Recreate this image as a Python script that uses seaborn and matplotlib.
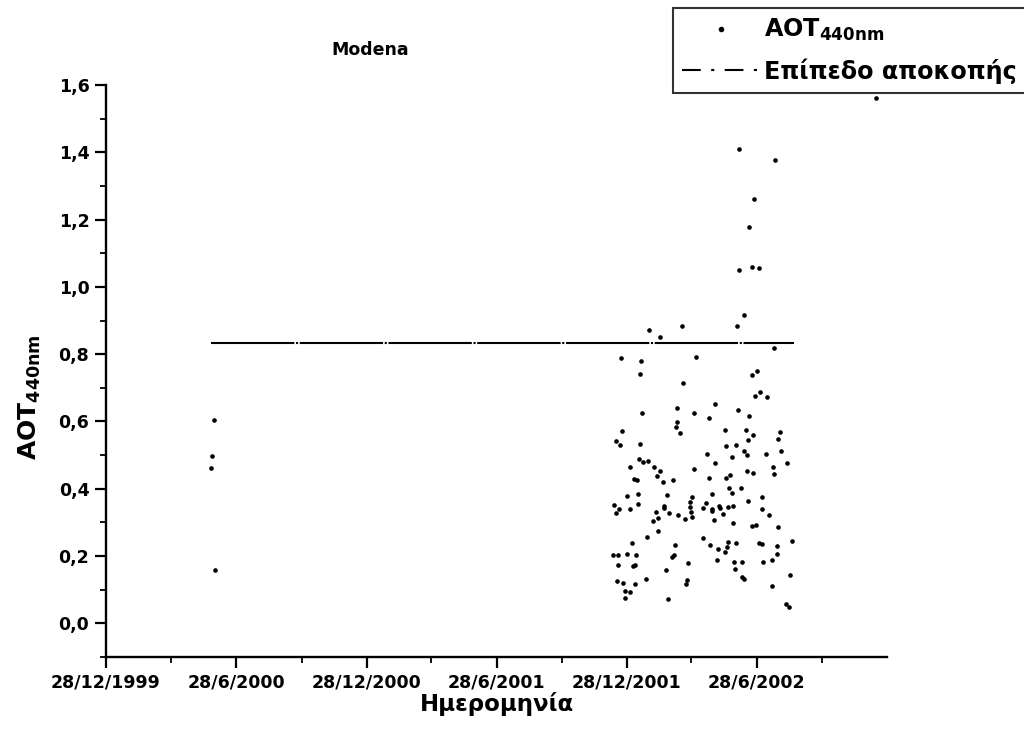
import matplotlib
matplotlib.use("Agg")
import matplotlib.pyplot as plt
import matplotlib.dates as mdates
from matplotlib.ticker import FixedLocator, FuncFormatter, MultipleLocator
from matplotlib.lines import Line2D
import pandas as pd
import seaborn as sns

# Daily AOT at 440 nm, Modena AERONET site
OBS_DATES = [
    "2000-05-24", "2000-05-25", "2000-05-27", "2000-05-29",
    "2002-01-28", "2002-03-15", "2002-02-12", "2001-12-20", "2002-01-17", "2002-04-04",
    "2002-01-15", "2002-03-17", "2002-03-09", "2002-04-01", "2002-01-18", "2002-03-08",
    "2002-03-07", "2002-03-12", "2001-12-21", "2001-12-12", "2001-12-18", "2002-01-16",
    "2002-01-02", "2002-01-14", "2002-01-20", "2002-01-27", "2002-02-04", "2002-02-12",
    "2002-02-08", "2002-01-07", "2002-01-11", "2002-02-17", "2002-03-03", "2002-04-01",
    "2001-12-28", "2002-01-12", "2002-02-22", "2001-12-10", "2001-12-17", "2001-12-13",
    "2002-01-02", "2002-01-13", "2002-02-18", "2002-02-18", "2002-02-07", "2002-02-25",
    "2002-02-09", "2002-02-02", "2002-03-10", "2002-03-19", "2002-03-26", "2002-03-30",
    "2002-03-27", "2002-03-28", "2002-03-29", "2002-02-10", "2002-01-25", "2002-01-04",
    "2002-03-05", "2001-12-09", "2001-12-16", "2001-12-28", "2002-01-10", "2002-03-04",
    "2002-03-01", "2001-12-15", "2002-01-06", "2002-01-08", "2002-03-24", "2002-02-21",
    "2001-12-14", "2001-12-22", "2002-01-09", "2002-01-24", "2002-03-22", "2002-03-21",
    "2001-12-26", "2002-01-02", "2001-12-25", "2002-02-24",
    "2002-06-28", "2002-06-21", "2002-06-26", "2002-04-30", "2002-04-22", "2002-06-02",
    "2002-06-17", "2002-05-14", "2002-06-13", "2002-06-23", "2002-06-16", "2002-07-31",
    "2002-07-28", "2002-05-16", "2002-05-30", "2002-06-11", "2002-06-15", "2002-05-24",
    "2002-08-01", "2002-07-11", "2002-04-19", "2002-05-01", "2002-08-09", "2002-07-21",
    "2002-07-22", "2002-06-14", "2002-06-23", "2002-04-22", "2002-05-16", "2002-05-22",
    "2002-05-20", "2002-06-06", "2002-05-25", "2002-04-27", "2002-07-05", "2002-06-16",
    "2002-04-18", "2002-04-14", "2002-04-26", "2002-04-26", "2002-05-06", "2002-05-08",
    "2002-05-19", "2002-05-26", "2002-05-12", "2002-04-29", "2002-07-05", "2002-07-15",
    "2002-05-26", "2002-06-21", "2002-06-27", "2002-07-28", "2002-04-14", "2002-04-24",
    "2002-05-05", "2002-05-14", "2002-05-17", "2002-05-19", "2002-05-30", "2002-07-01",
    "2002-07-06", "2002-07-26", "2002-08-16", "2002-07-27", "2002-07-20", "2002-07-07",
    "2002-05-04", "2002-05-27", "2002-06-08", "2002-05-28", "2002-06-07", "2002-06-10",
    "2002-08-14", "2002-07-20", "2002-08-08", "2002-08-13",
    "2002-06-04", "2002-07-24", "2002-06-25", "2002-06-18", "2002-06-03", "2002-06-22",
    "2002-07-02", "2002-06-11", "2002-05-31", "2002-07-23", "2002-07-03", "2002-07-12",
    "2002-12-13",
]
AOT_440 = [
    0.463, 0.496, 0.605, 0.160,
    0.872, 0.884, 0.850, 0.790, 0.779, 0.791,
    0.741, 0.713, 0.639, 0.624, 0.625, 0.598,
    0.583, 0.567, 0.571, 0.542, 0.530, 0.534,
    0.466, 0.488, 0.479, 0.483, 0.466, 0.454,
    0.438, 0.430, 0.425, 0.420, 0.425, 0.459,
    0.379, 0.383, 0.381, 0.351, 0.340, 0.328,
    0.339, 0.356, 0.350, 0.342, 0.331, 0.328,
    0.314, 0.305, 0.322, 0.310, 0.361, 0.376,
    0.346, 0.331, 0.316, 0.275, 0.256, 0.240,
    0.232, 0.204, 0.204, 0.207, 0.202, 0.202,
    0.197, 0.173, 0.170, 0.174, 0.179, 0.159,
    0.127, 0.119, 0.118, 0.133, 0.130, 0.116,
    0.095, 0.093, 0.076, 0.071,
    0.751, 0.737, 0.675, 0.653, 0.610, 0.633,
    0.617, 0.575, 0.574, 0.560, 0.544, 0.568,
    0.547, 0.528, 0.529, 0.513, 0.499, 0.494,
    0.511, 0.502, 0.502, 0.478, 0.478, 0.465,
    0.443, 0.453, 0.447, 0.433, 0.433, 0.442,
    0.403, 0.403, 0.388, 0.385, 0.377, 0.364,
    0.358, 0.343, 0.341, 0.334, 0.348, 0.343,
    0.345, 0.350, 0.326, 0.307, 0.339, 0.323,
    0.299, 0.290, 0.291, 0.285, 0.255, 0.234,
    0.220, 0.213, 0.228, 0.241, 0.240, 0.240,
    0.235, 0.231, 0.245, 0.205, 0.188, 0.181,
    0.188, 0.181, 0.182, 0.161, 0.137, 0.132,
    0.144, 0.110, 0.058, 0.050,
    1.411, 1.378, 1.262, 1.177, 1.050, 1.059,
    1.055, 0.916, 0.884, 0.817, 0.687, 0.672,
    1.561,
]

# Cutoff level and the period it is drawn over
CUTOFF_LEVEL = 0.834
CUTOFF_SPAN = ["2000-05-24", "2002-08-19"]

X_RANGE = ["1999-12-28", "2002-12-28"]
X_MAJOR = ["1999-12-28", "2000-06-28", "2000-12-28", "2001-06-28", "2001-12-28", "2002-06-28"]
X_MINOR = ["2000-03-28", "2000-09-28", "2001-03-28", "2001-09-28", "2002-03-28", "2002-09-28"]
Y_MAJOR = [0.0, 0.2, 0.4, 0.6, 0.8, 1.0, 1.2, 1.4, 1.6]

TITLE = "Modena"
SERIES_LABEL = "AOT$_{440nm}$"
CUTOFF_LABEL = "Επίπεδο αποκοπής"
X_LABEL = "Ημερομηνία"
Y_LABEL = "AOT$_{440nm}$"

sns.set_theme(style="ticks")
plt.rcParams.update({
    "font.family": ["DejaVu Sans"],
    "font.weight": "bold",
    "mathtext.fontset": "dejavusans",
    "mathtext.default": "bf",
    "axes.edgecolor": "black",
    "axes.labelcolor": "black",
    "xtick.color": "black",
    "ytick.color": "black",
    "text.color": "black",
})

fig = plt.figure(figsize=(10.24, 7.49), dpi=100)
ax = fig.add_axes([106 / 1024, 1 - 657 / 749, 781 / 1024, 572 / 749])

obs = pd.DataFrame({"date": pd.to_datetime(OBS_DATES), "aot": AOT_440})
cut = pd.DataFrame({"date": pd.to_datetime(CUTOFF_SPAN), "level": [CUTOFF_LEVEL] * len(CUTOFF_SPAN)})

sns.scatterplot(data=obs, x="date", y="aot", ax=ax, s=11, color="black",
                linewidth=0, legend=False, zorder=3)
sns.lineplot(data=cut, x="date", y="level", ax=ax, color="black", lw=1.5,
             linestyle=(0, (40, 0.8, 1, 0.8)), legend=False)

ax.set_xlim(pd.Timestamp(X_RANGE[0]), pd.Timestamp(X_RANGE[1]))
ax.set_ylim(-0.1, 1.6)

ax.xaxis.set_major_locator(FixedLocator(mdates.date2num(pd.to_datetime(X_MAJOR))))
ax.xaxis.set_minor_locator(FixedLocator(mdates.date2num(pd.to_datetime(X_MINOR))))


def date_label(v, _pos):
    d = mdates.num2date(v)
    return f"{d.day}/{d.month}/{d.year}"


ax.xaxis.set_major_formatter(FuncFormatter(date_label))
ax.yaxis.set_major_locator(FixedLocator(Y_MAJOR))
ax.yaxis.set_minor_locator(MultipleLocator(0.1))
ax.yaxis.set_major_formatter(FuncFormatter(lambda v, _p: f"{v:.1f}".replace(".", ",")))

sns.despine(ax=ax)
for side in ("left", "bottom"):
    ax.spines[side].set_linewidth(1.7)

ax.tick_params(which="major", direction="out", length=8, width=1.6, labelsize=12.5, pad=4)
ax.tick_params(which="minor", direction="out", length=4.5, width=1.3)
for lab in ax.get_xticklabels() + ax.get_yticklabels():
    lab.set_fontweight("bold")

ax.set_xlabel(X_LABEL, fontsize=16.5, fontweight="bold")
ax.set_ylabel(Y_LABEL, fontsize=18, fontweight="bold")
ax.xaxis.label.set_va("center")
ax.yaxis.label.set_va("center")
ax.xaxis.set_label_coords(0.5, -0.082)
ax.yaxis.set_label_coords(-0.097, 0.455)

fig.text(370 / 1024, 1 - 50 / 749, TITLE, ha="center", va="center",
         fontsize=12.5, fontweight="bold")

handles = [
    Line2D([], [], marker="o", ls="none", color="black", markersize=3),
    Line2D([], [], color="black", lw=1.5, linestyle=(0, (9, 5, 1.5, 5))),
]
leg = fig.legend(handles, [SERIES_LABEL, CUTOFF_LABEL], loc="upper right",
                 bbox_to_anchor=(1026 / 1024, 1 - 8 / 749), frameon=True,
                 fancybox=False, edgecolor="black", fontsize=17.2,
                 handlelength=3.3, handletextpad=0.15, borderpad=0.38,
                 labelspacing=0.62, borderaxespad=0)
leg.get_frame().set_linewidth(1.5)
for t in leg.get_texts():
    t.set_fontweight("bold")

fig.savefig("out.png", dpi=100, facecolor="white")
